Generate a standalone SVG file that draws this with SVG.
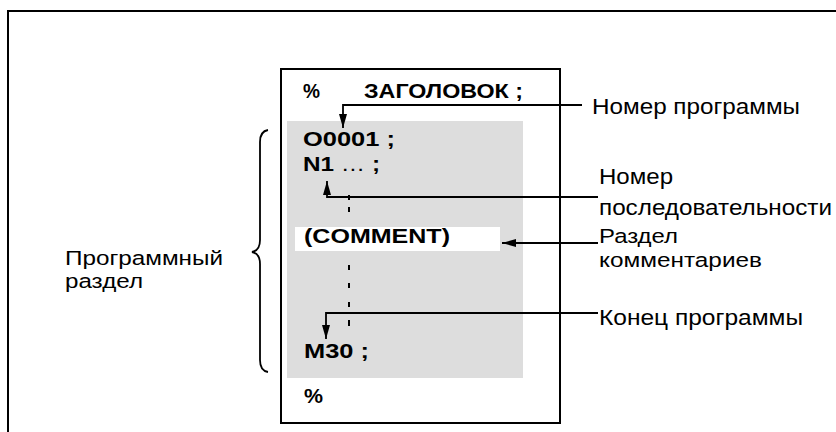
<svg xmlns="http://www.w3.org/2000/svg" width="836" height="432" viewBox="0 0 836 432">
<style>
.b{font-family:"Liberation Sans",Arial,sans-serif;font-weight:bold;font-size:19.5px;fill:#000}
.n{font-family:"Liberation Sans",Arial,sans-serif;font-size:22px;fill:#000}
.s{font-size:20.5px}
.ln{fill:none;stroke:#000;stroke-width:1.8}
.fr{fill:none;stroke:#000;stroke-width:2}
</style>
<defs>
<marker id="ah" viewBox="0 0 14 8" refX="14" refY="4" markerWidth="14" markerHeight="8" markerUnits="userSpaceOnUse" orient="auto">
<path d="M0,0 L14,4 L0,8 z" fill="#000"/>
</marker>
</defs>
<rect width="836" height="432" fill="#fff"/>
<g id="frame">
<path class="fr" d="M8,432 V11 H836"/>
</g>
<g id="program-box">
<rect x="281" y="69" width="279" height="354" fill="#fff" stroke="#000" stroke-width="2"/>
<rect x="287" y="121" width="236" height="257" fill="#dddddd"/>
<rect x="295" y="227" width="205" height="24" fill="#fff"/>
<path d="M349,195 V200 M349,207 V212 M349,265 V270 M349,283 V288 M349,302 V307 M349,320 V326" stroke="#000" stroke-width="2" fill="none"/>
<text class="b" x="303" y="98" textLength="17" lengthAdjust="spacingAndGlyphs">%</text>
<text class="b" x="364" y="98" textLength="159" lengthAdjust="spacingAndGlyphs">ЗАГОЛОВОК ;</text>
<text class="b" x="303" y="146" textLength="92" lengthAdjust="spacingAndGlyphs">O0001 ;</text>
<text class="b" x="303" y="171" textLength="77" lengthAdjust="spacingAndGlyphs">N1 <tspan font-weight="normal">…</tspan> ;</text>
<text class="b" x="304" y="243" textLength="146" lengthAdjust="spacingAndGlyphs">(COMMENT)</text>
<text class="b" x="304" y="358" textLength="65" lengthAdjust="spacingAndGlyphs">M30 ;</text>
<text class="b" x="304" y="403" textLength="19" lengthAdjust="spacingAndGlyphs">%</text>
</g>
<g id="brace">
<path class="ln" d="M268,130 C262,131 260,136 260,142 L260,240 C260,247 257,251 252,252 C257,253 260,257 260,264 L260,360 C260,367 262,371 268,372"/>
<text class="n s" x="65" y="265" textLength="158" lengthAdjust="spacingAndGlyphs">Программный</text>
<text class="n s" x="65" y="288" textLength="78" lengthAdjust="spacingAndGlyphs">раздел</text>
</g>
<g id="label-program-number">
<text class="n" x="592" y="114" textLength="208" lengthAdjust="spacingAndGlyphs">Номер программы</text>
</g>
<g id="label-sequence-number">
<text class="n" x="599" y="184" textLength="74" lengthAdjust="spacingAndGlyphs">Номер</text>
<text class="n" x="599" y="215" textLength="233" lengthAdjust="spacingAndGlyphs">последовательности</text>
</g>
<g id="label-comment">
<text class="n s" x="599" y="243" textLength="79" lengthAdjust="spacingAndGlyphs">Раздел</text>
<text class="n s" x="599" y="267" textLength="163" lengthAdjust="spacingAndGlyphs">комментариев</text>
</g>
<g id="label-program-end">
<text class="n" x="599" y="325" textLength="204" lengthAdjust="spacingAndGlyphs">Конец программы</text>
</g>
<g id="connectors">
<path class="ln" d="M582,105 H343 V128" marker-end="url(#ah)"/>
<path class="ln" d="M598,197 H327 V181" marker-end="url(#ah)"/>
<path class="ln" d="M598,243 H502" marker-end="url(#ah)"/>
<path class="ln" d="M598,313 H326 V339" marker-end="url(#ah)"/>
</g>
</svg>
